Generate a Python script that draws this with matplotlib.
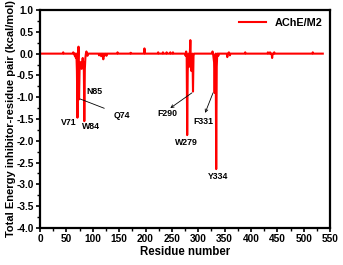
import numpy as np
import matplotlib
matplotlib.use('Agg')
import matplotlib.pyplot as plt

plt.rcParams['font.family'] = ['Liberation Sans', 'DejaVu Sans']
plt.rcParams['font.weight'] = 'bold'

# residues with a non-zero interaction energy (all others are 0)
n_residues = 536
hit_residues = [44, 63, 66, 68, 70, 71, 72, 73, 74, 75, 76, 77, 78, 79, 80, 81, 82, 83, 84, 85, 86, 88, 90,
                112, 116, 120, 122, 126, 147, 172, 198, 224, 233, 240, 247, 252,
                276, 277, 279, 280, 281, 283, 285, 286, 287, 288, 290, 291,
                327, 329, 330, 331, 332, 334, 335, 338,
                355, 358, 360, 389, 432, 436, 440, 444, 517]
hit_energy = [0.03, 0.03, -0.05, -0.1, -0.4, -1.47, -0.3, 0.16, -1.05, -0.4, -0.2, -0.3, -0.2, -0.35, -0.2, -0.1, -0.3, -0.2, -1.55, -0.35, -0.1, 0.05, -0.05,
              -0.04, -0.06, -0.13, -0.05, -0.05, 0.03, 0.02, 0.12, 0.03, 0.03, 0.03, 0.03, 0.03,
              -0.05, 0.05, -1.87, -0.4, -0.1, -0.3, 0.31, -0.2, -0.4, -0.15, -0.87, -0.05,
              0.05, -0.1, -0.2, -0.9, -0.2, -2.65, -0.3, -0.05,
              -0.08, 0.03, -0.04, 0.03, 0.03, 0.03, -0.1, 0.03, 0.03]

residues = np.arange(1, n_residues + 1)
energy = np.zeros(n_residues)
for r, e in zip(hit_residues, hit_energy):
    energy[r - 1] = e

fig = plt.figure(figsize=(3.43, 2.65), dpi=100)
ax = fig.add_axes([0.1166, 0.140, 0.846, 0.822])

ax.plot(residues, energy, color='red', lw=1.5, label='AChE/M2')

ax.set_xlim(0, 550)
ax.set_ylim(-4.0, 1.0)
ax.set_xticks(np.arange(0, 551, 50))
ax.set_xticks(np.arange(25, 551, 50), minor=True)
ax.set_yticks(np.arange(-4.0, 1.01, 0.5))
ax.set_yticks(np.arange(-3.75, 1.0, 0.5), minor=True)
ax.set_yticklabels([f'{v:.1f}' for v in np.arange(-4.0, 1.01, 0.5)])
ax.tick_params(which='major', direction='out', length=3, width=1.2, labelsize=7.3, pad=1.5)
ax.tick_params(which='minor', direction='out', length=2, width=1.0)
for s in ax.spines.values():
    s.set_linewidth(1.6)

ax.set_xlabel('Residue number', fontsize=8.3, fontweight='bold', labelpad=1)
ax.set_ylabel('Total Energy inhibitor-residue pair (kcal/mol)', fontsize=8, fontweight='bold', labelpad=0)

ax.legend(loc='upper right', frameon=False, fontsize=7.8, handlelength=2.5, borderaxespad=0.3)

fs = 6.3
ax.text(54, -1.59, 'V71', fontsize=fs, ha='center', va='center')
ax.text(97, -1.68, 'W84', fontsize=fs, ha='center', va='center')
ax.text(104, -0.88, 'N85', fontsize=fs, ha='center', va='center')
ax.annotate('Q74', xy=(76, -1.04), xytext=(155, -1.41), fontsize=fs, ha='center', va='center',
            arrowprops=dict(arrowstyle='-', lw=0.6, color='black', shrinkA=5, shrinkB=0))
ax.annotate('', xy=(247, -1.25), xytext=(288, -0.9),
            arrowprops=dict(arrowstyle='->', lw=0.6, color='black', mutation_scale=5, shrinkA=0, shrinkB=0))
ax.text(241, -1.38, 'F290', fontsize=fs, ha='center', va='center')
ax.annotate('', xy=(313, -1.36), xytext=(328, -0.9),
            arrowprops=dict(arrowstyle='->', lw=0.6, color='black', mutation_scale=5, shrinkA=0, shrinkB=0))
ax.text(309, -1.55, 'F331', fontsize=fs, ha='center', va='center')
ax.text(278, -2.05, 'W279', fontsize=fs, ha='center', va='center')
ax.text(337, -2.81, 'Y334', fontsize=fs, ha='center', va='center')

fig.savefig('out.png', dpi=100)
